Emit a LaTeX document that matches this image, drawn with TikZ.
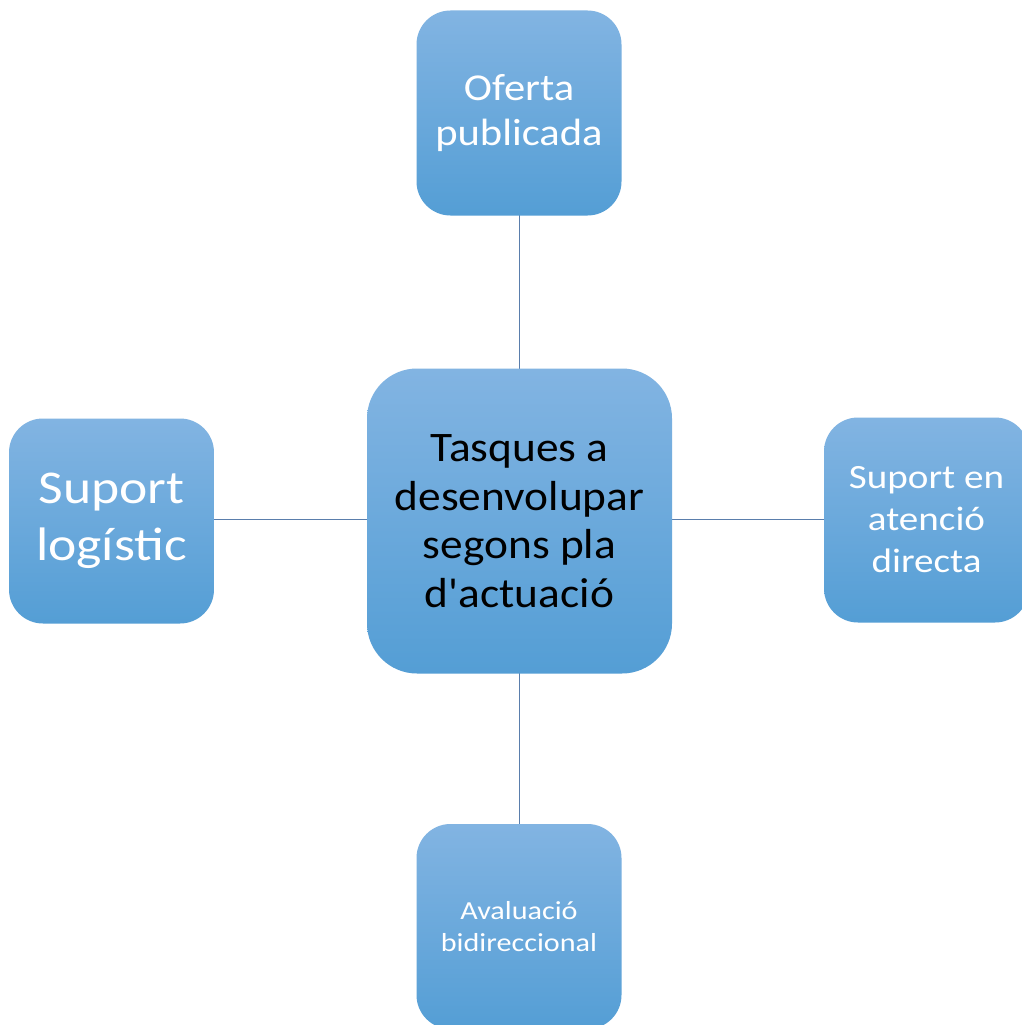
\documentclass[tikz,border=0pt]{standalone}
\usepackage{fontspec}
\setmainfont{Carlito}[Ligatures=TeXOff]
\newfontfamily\ftop{Carlito}[FakeStretch=1.12,Ligatures=TeXOff]
\newfontfamily\fmid{Carlito}[FakeStretch=1.08,Ligatures=TeXOff]
\newfontfamily\fleft{Carlito}[FakeStretch=1.14,Ligatures=TeXOff]
\newfontfamily\fright{Carlito}[FakeStretch=1.15,Ligatures=TeXOff]
\newfontfamily\fbot{Carlito}[FakeStretch=1.16,Ligatures=TeXOff]
\definecolor{boxtop}{RGB}{130,180,226}
\definecolor{boxbot}{RGB}{84,158,213}
\definecolor{linkcol}{RGB}{90,126,172}
\begin{document}
\begin{tikzpicture}[x=1pt,y=-1pt,
  outer/.style={draw=none,top color=boxtop,bottom color=boxbot,rounded corners=34pt,
    minimum width=205pt,minimum height=205pt,align=center,text=white,inner sep=0pt},
  centre/.style={draw=none,top color=boxtop,bottom color=boxbot,rounded corners=50pt,
    minimum width=305pt,minimum height=305pt,align=center,text=black,inner sep=0pt},
  link/.style={draw=linkcol,line width=0.9pt}]
\useasboundingbox (0,0) rectangle (1021,1025);
\fill[white] (0,0) rectangle (1021,1025);
\coordinate (c) at (519.5,519);
\draw[link] (519.5,111) -- (c);
\draw[link] (112,519) -- (926,519);
\draw[link] (c) -- (519.5,926);
\node[centre,font=\fmid\fontsize{42}{48.5}\selectfont] (mid) at (519.5,521) {Tasques a\\desenvolupar\\segons pla\\d'actuació};
\node[outer,font=\ftop\fontsize{38}{45}\selectfont] (top) at (519,113) {Oferta\\publicada};
\node[outer,font=\fleft\fontsize{47}{57}\selectfont] (left) at (111.5,521) {Suport\\logístic};
\node[outer,font=\fright\fontsize{34}{42}\selectfont] (right) at (926.5,520) {Suport en\\atenció\\directa};
\node[outer,font=\fbot\fontsize{26}{32}\selectfont] (bot) at (519,926.5) {Avaluació\\bidireccional};
\end{tikzpicture}
\end{document}
